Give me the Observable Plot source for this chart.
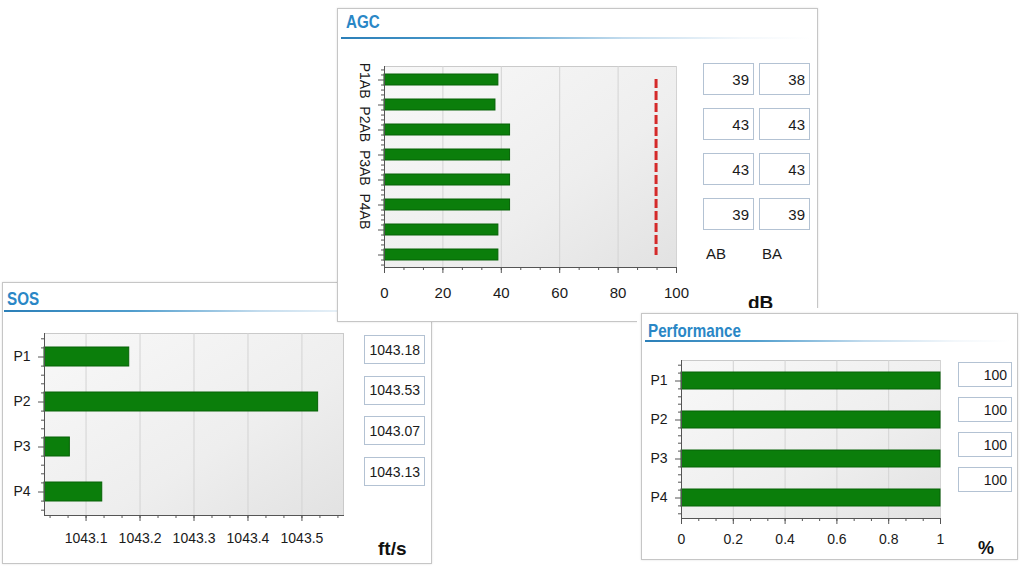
<!DOCTYPE html>
<html><head><meta charset="utf-8">
<script src="https://cdn.jsdelivr.net/npm/d3@7"></script>
<script src="https://cdn.jsdelivr.net/npm/@observablehq/plot@0.6"></script>
<style>
html,body{margin:0;padding:0;background:#fff;}
#page{position:relative;width:1024px;height:570px;overflow:hidden;font-family:"Liberation Sans",Arial,sans-serif;color:#1a1a1a;}
.abs{position:absolute;}
.white{position:absolute;background:#fff;}
.panel{position:absolute;box-sizing:border-box;border:1px solid #c6c6c6;background:#fff;box-shadow:0 0 2px rgba(0,0,0,0.12);}
.title{position:absolute;font-weight:bold;font-size:19px;color:#2a87c6;line-height:1;white-space:nowrap;transform:scaleX(0.8);transform-origin:0 0;}
.rule{position:absolute;height:2px;background:linear-gradient(to right,#2b7fb8 0%,#4f9dcd 30%,rgba(170,205,230,0.7) 60%,rgba(235,242,248,0.6) 85%,rgba(255,255,255,0) 100%);}
.vbox{box-sizing:border-box;border:1px solid #b3c2d3;background:#fff;display:flex;align-items:center;justify-content:flex-end;padding-right:4px;}
.unit{position:absolute;font-weight:bold;color:#111;line-height:1;}
.grid{position:absolute;display:grid;}
</style>
</head><body>
<svg width="0" height="0" style="position:absolute">
  <defs>
    <linearGradient id="plotbg" x1="0" y1="0" x2="1" y2="1">
      <stop offset="0" stop-color="#f8f8f8"/>
      <stop offset="0.6" stop-color="#eeeeee"/>
      <stop offset="1" stop-color="#e2e2e2"/>
    </linearGradient>
  </defs>
</svg>
<div id="page">
  <!-- SOS layer -->
  <div class="panel" style="left:2px;top:282px;width:430px;height:282px;z-index:1"></div>
  <div class="title" style="left:7px;top:289px;z-index:2">SOS</div>
  <div class="rule" style="left:4px;top:310px;width:425px;z-index:2"></div>
  <div id="sosPlot" class="abs" style="left:4px;top:318px;z-index:2"></div>
  <div id="sosBoxes" class="grid" style="left:364px;top:335px;z-index:2;grid-template-columns:61px;grid-auto-rows:29px;row-gap:11.7px;font-size:14px"></div>
  <div class="unit" style="left:378px;top:539px;font-size:19px;z-index:2">ft/s</div>

  <!-- AGC layer -->
  <div class="panel" style="left:337px;top:8px;width:481px;height:314px;z-index:3"></div>
  <div class="title" style="left:346px;top:12px;z-index:4">AGC</div>
  <div class="rule" style="left:341px;top:37px;width:470px;z-index:4"></div>
  <div id="agcPlot" class="abs" style="left:345px;top:52px;z-index:4"></div>
  <div id="agcBoxes" class="grid" style="left:703px;top:63px;z-index:4;grid-template-columns:51px 51px;column-gap:5px;grid-auto-rows:32px;row-gap:13px;font-size:15px"></div>
  <div id="agcCols" class="grid" style="left:706px;top:245px;z-index:4;grid-template-columns:56px 56px;font-size:15px"></div>
  <div class="unit" style="left:748px;top:293px;font-size:19px;z-index:4">dB</div>

  <!-- Performance layer -->
  <div class="white" style="left:637px;top:308px;width:387px;height:262px;z-index:5"></div>
  <div class="panel" style="left:641px;top:313px;width:377px;height:247px;z-index:5"></div>
  <div class="title" style="left:648px;top:321px;z-index:6">Performance</div>
  <div class="rule" style="left:645px;top:340px;width:365px;z-index:6"></div>
  <div id="perfPlot" class="abs" style="left:645px;top:345px;z-index:6"></div>
  <div id="perfBoxes" class="grid" style="left:958px;top:362px;z-index:6;grid-template-columns:54px;grid-auto-rows:25px;row-gap:10px;font-size:14px"></div>
  <div class="unit" style="left:978px;top:539px;font-size:18px;z-index:6">%</div>
</div>
<script>
// ---------- data ----------
const sosCategories = ["P1", "P2", "P3", "P4"];
const sosValues = [1043.18, 1043.53, 1043.07, 1043.13];
const sosLabels = ["1043.18", "1043.53", "1043.07", "1043.13"];
const sosDomain = [1043.023, 1043.577];
const sosTicks = [1043.1, 1043.2, 1043.3, 1043.4, 1043.5];

const agcCategories = ["P1AB", "P1BA", "P2AB", "P2BA", "P3AB", "P3BA", "P4AB", "P4BA"];
const agcValues = [39, 38, 43, 43, 43, 43, 39, 39];
const agcThreshold = 93;
const agcTicks = [0, 20, 40, 60, 80, 100];
const agcAxisText = "P1AB\u00a0\u00a0P2AB\u00a0\u00a0P3AB\u00a0\u00a0P4AB";
const agcColumns = ["AB", "BA"];

const perfCategories = ["P1", "P2", "P3", "P4"];
const perfValues = [1, 1, 1, 1];
const perfLabels = ["100", "100", "100", "100"];
const perfTicks = [0, 0.2, 0.4, 0.6, 0.8, 1];

// ---------- helpers ----------
const FONT = "'Liberation Sans', Arial, sans-serif";
const BAR_FILL = "#0b7e0b", BAR_STROKE = "#066206", AXIS = "#555";

function barChart(o) {
  const data = o.cats.map((c, i) => ({c, v: o.vals[i]}));
  const plotH = o.height - o.marginTop - o.marginBottom;
  const step = plotH / o.cats.length;
  const minorOffsets = [-2, -1, 1, 2].map(k => k * step / 5);
  return Plot.plot({
    width: o.width, height: o.height,
    marginLeft: o.marginLeft, marginRight: o.marginRight,
    marginTop: o.marginTop, marginBottom: o.marginBottom,
    style: {fontFamily: FONT, fontSize: o.fontSize + "px", color: "#1a1a1a", background: "transparent", overflow: "visible"},
    x: {domain: o.domain},
    y: {type: "band", domain: o.cats, paddingInner: o.padding, paddingOuter: o.padding / 2},
    marks: [
      Plot.frame({fill: "url(#plotbg)", stroke: "#cacaca"}),
      Plot.gridX({ticks: o.ticks, stroke: "#d3d3d3", strokeOpacity: 1}),
      Plot.barX(data, {x1: o.domain[0], x2: "v", y: "c", fill: BAR_FILL, stroke: BAR_STROKE, strokeWidth: 1}),
      ...(o.extra || []),
      Plot.ruleX([o.domain[0]], {stroke: AXIS}),
      Plot.frame({anchor: "bottom", stroke: AXIS}),
      Plot.axisX({ticks: o.minor, tickSize: 3, tickFormat: () => "", label: null, stroke: AXIS}),
      Plot.axisX({ticks: o.ticks, tickSize: 6, tickPadding: o.tickPadding, label: null, stroke: AXIS,
                  fontSize: o.fontSize, tickFormat: d => String(d)}),
      Plot.axisY({tickSize: 6, tickPadding: 8, label: null, stroke: AXIS, fontSize: o.fontSize,
                  tickFormat: o.yText ? (d => d) : (() => "")}),
      ...minorOffsets.map(dy => Plot.axisY({tickSize: 3, tickFormat: () => "", label: null, stroke: AXIS, dy}))
    ]
  });
}

// ---------- SOS ----------
const sosMinor = d3.range(-2, 15).map(k => sosTicks[0] + k / 30);
document.getElementById("sosPlot").append(barChart({
  cats: sosCategories, vals: sosValues, domain: sosDomain, ticks: sosTicks, minor: sosMinor,
  width: 350, height: 235, marginLeft: 40, marginRight: 11, marginTop: 15, marginBottom: 38,
  padding: 0.58, fontSize: 14, tickPadding: 12, yText: true
}));
d3.select("#sosBoxes").selectAll("div").data(sosLabels).join("div").attr("class", "vbox").text(d => d);

// ---------- AGC ----------
const agcMinor = d3.range(0, 16).map(k => k * 20 / 3);
document.getElementById("agcPlot").append(barChart({
  cats: agcCategories, vals: agcValues, domain: [0, 100], ticks: agcTicks, minor: agcMinor,
  width: 355, height: 248, marginLeft: 39, marginRight: 24, marginTop: 14, marginBottom: 33,
  padding: 0.56, fontSize: 15, tickPadding: 14, yText: false,
  extra: [
    Plot.ruleX([agcThreshold], {x: d => d,
      y1: () => agcCategories[0], y2: () => agcCategories[agcCategories.length - 1],
      insetTop: 5, insetBottom: 5,
      stroke: "#d42a2a", strokeWidth: 3, strokeDasharray: "9,3"}),
    Plot.text([agcAxisText], {text: d => d, frameAnchor: "left", rotate: 90, textAnchor: "middle",
      lineAnchor: "middle", dx: -20, dy: -21, fontSize: 14, fill: "#1a1a1a"})
  ]
}));
const agcAB = agcValues.filter((v, i) => i % 2 === 0);
const agcBA = agcValues.filter((v, i) => i % 2 === 1);
const agcPairs = agcAB.flatMap((v, i) => [v, agcBA[i]]);
d3.select("#agcBoxes").selectAll("div").data(agcPairs).join("div").attr("class", "vbox").text(d => d);
d3.select("#agcCols").selectAll("div").data(agcColumns).join("div").text(d => d);

// ---------- Performance ----------
const perfMinor = d3.range(0, 16).map(k => k / 15);
document.getElementById("perfPlot").append(barChart({
  cats: perfCategories, vals: perfValues, domain: [0, 1], ticks: perfTicks, minor: perfMinor,
  width: 310, height: 210, marginLeft: 36, marginRight: 15, marginTop: 15, marginBottom: 37,
  padding: 0.575, fontSize: 14, tickPadding: 10, yText: true
}));
d3.select("#perfBoxes").selectAll("div").data(perfLabels).join("div").attr("class", "vbox").text(d => d);
</script>
</body></html>
